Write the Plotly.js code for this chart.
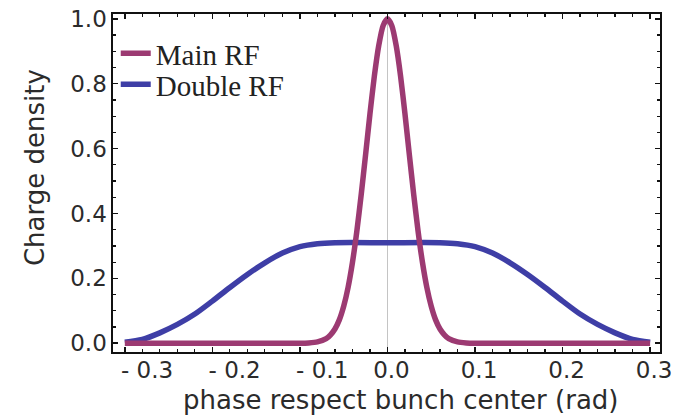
<!DOCTYPE html>
<html><head><meta charset="utf-8">
<script src="https://cdn.plot.ly/plotly-3.0.1.min.js"></script>
<style>html,body{margin:0;padding:0;background:#fff}#chart{width:688px;height:418px}</style>
</head><body><div id="chart"></div>
<script>
// Main RF
const mainX = [-0.30,-0.20,-0.12,-0.10,-0.09,-0.08,-0.07,-0.065,-0.06,-0.055,-0.05,-0.045,-0.04,-0.035,-0.03,-0.025,-0.02,-0.015,-0.01,-0.005,0,
               0.005,0.01,0.015,0.02,0.025,0.03,0.035,0.04,0.045,0.05,0.055,0.06,0.065,0.07,0.08,0.09,0.10,0.12,0.20,0.30];
const mainY = [0,0,0,0,0.001,0.004,0.014,0.026,0.044,0.072,0.114,0.172,0.249,0.345,0.458,0.581,0.707,0.823,0.917,0.979,1.0,
               0.979,0.917,0.823,0.707,0.581,0.458,0.345,0.249,0.172,0.114,0.072,0.044,0.026,0.014,0.004,0.001,0,0,0,0];
// Double RF
const doubleX = [-0.30,-0.28,-0.26,-0.24,-0.22,-0.20,-0.18,-0.16,-0.14,-0.12,-0.10,-0.08,-0.06,0,
                 0.06,0.08,0.10,0.12,0.14,0.16,0.18,0.20,0.22,0.24,0.26,0.28,0.30];
const doubleY = [0.003,0.012,0.032,0.058,0.090,0.130,0.172,0.212,0.248,0.278,0.298,0.307,0.310,0.310,
                 0.310,0.307,0.298,0.278,0.248,0.212,0.172,0.130,0.090,0.058,0.032,0.012,0.003];
const seriesNames = ["Main RF", "Double RF"];
const xTickVals = [-0.3,-0.2,-0.1,0,0.1,0.2,0.3];
const xTickLabels = ["- 0.3","- 0.2","- 0.1","0.0","0.1","0.2","0.3"];
const yTickVals = [0,0.2,0.4,0.6,0.8,1.0];
const yTickLabels = ["0.0","0.2","0.4","0.6","0.8","1.0"];
const xTitle = "phase respect bunch center (rad)";
const yTitle = "Charge density";

const sans = "DejaVu Sans, sans-serif";
const serif = "Liberation Serif, Times New Roman, serif";
const txt = "#2b2b2b";
const pad = n => "\u00a0".repeat(n);
// negative labels sit right of their ticks in the original
const xTickText = xTickLabels.map(s => s.startsWith("-") ? pad(5) + s : s);

const traces = [
  {x: doubleX, y: doubleY, name: seriesNames[1], type: "scatter", mode: "lines", legend: "legend2",
   line: {color: "#3e3ea6", width: 5.5, shape: "spline", smoothing: 0.8}},
  {x: mainX, y: mainY, name: seriesNames[0], type: "scatter", mode: "lines", legend: "legend",
   line: {color: "#9c3a72", width: 5.5, shape: "spline", smoothing: 0.6}}
];

const axisCommon = {
  showline: true, mirror: "ticks", linecolor: "#111", linewidth: 1.6,
  ticks: "inside", ticklen: 5, tickwidth: 1.5, tickcolor: "#111",
  showgrid: false, tickmode: "array", tickangle: 0,
  tickfont: {family: sans, size: 23, color: txt}
};
const legendCommon = {x: 0.005, xanchor: "left", yanchor: "top",
  bgcolor: "rgba(0,0,0,0)", font: {family: serif, size: 29, color: "#222"}, itemwidth: 30};

const layout = {
  width: 688, height: 418,
  margin: {l: 113, r: 28, t: 14, b: 66},
  paper_bgcolor: "#fff", plot_bgcolor: "#fff",
  showlegend: true,
  legend: Object.assign({}, legendCommon, {y: 0.9586}),
  legend2: Object.assign({}, legendCommon, {y: 0.867}),
  xaxis: Object.assign({}, axisCommon, {
    range: [-0.3135, 0.3113], tickvals: xTickVals, ticktext: xTickText,
    zeroline: true, zerolinecolor: "#c4c4c4", zerolinewidth: 1,
    ticklabelshift: 4, ticklabelstandoff: -3,
    minor: {ticks: "inside", tick0: 0, dtick: 0.02, ticklen: 3, tickwidth: 1.2, tickcolor: "#111", showgrid: false}
  }),
  yaxis: Object.assign({}, axisCommon, {
    range: [-0.027, 1.015], tickvals: yTickVals, ticktext: yTickLabels,
    zeroline: false,
    minor: {ticks: "inside", tick0: 0, dtick: 0.05, ticklen: 3, tickwidth: 1.2, tickcolor: "#111", showgrid: false}
  }),
  annotations: [
    {text: xTitle, xref: "paper", yref: "paper", x: 0.5247, y: -0.142, xanchor: "center", yanchor: "middle",
     showarrow: false, font: {family: sans, size: 26, color: txt}},
    {text: yTitle, xref: "paper", yref: "paper", x: -0.1426, y: 0.547, xanchor: "center", yanchor: "middle",
     textangle: -90, showarrow: false, font: {family: sans, size: 26, color: txt}}
  ]
};

Plotly.newPlot("chart", traces, layout, {displayModeBar: false, staticPlot: true});
</script>
</body></html>
